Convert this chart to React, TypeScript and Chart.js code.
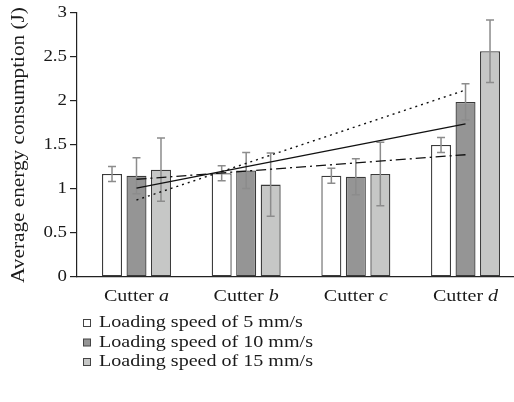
import React, { useEffect, useRef } from "react";
import { Chart, registerables } from "chart.js";

Chart.register(...registerables);

const categories = ["a", "b", "c", "d"];
const seriesNames = [
  "Loading speed of 5 mm/s",
  "Loading speed of 10 mm/s",
  "Loading speed of 15 mm/s",
];
const speed5 = [1.17, 1.18, 1.15, 1.5];
const speed10 = [1.15, 1.21, 1.14, 1.99];
const speed15 = [1.22, 1.05, 1.17, 2.565];
const err5 = [0.085, 0.085, 0.085, 0.085];
const err10 = [0.205, 0.205, 0.205, 0.205];
const err15 = [0.36, 0.36, 0.36, 0.355];
// trend line values at cutter a and cutter d
const trend5 = [1.11, 1.39];
const trend10 = [1.01, 1.74];
const trend15 = [0.875, 2.125];
const yTicks = [0, 0.5, 1, 1.5, 2, 2.5, 3];

const FONT = '"Liberation Serif", "Times New Roman", serif';
const TEXT = "#1a1a1a";
const STRETCH = 1.18;
const fills = ["#ffffff", "#959595", "#c6c7c6"];
const edge = "#3a3a3a";

type Part = { t: string; italic?: boolean };

function drawParts(
  ctx: CanvasRenderingContext2D,
  parts: Part[],
  align: "left" | "center" | "right",
  size: number
) {
  const fonts = parts.map((p) => `${p.italic ? "italic " : ""}${size}px ${FONT}`);
  const widths = parts.map((p, i) => {
    ctx.font = fonts[i];
    return ctx.measureText(p.t).width;
  });
  const total = widths.reduce((a, b) => a + b, 0);
  let x = align === "center" ? -total / 2 : align === "right" ? -total : 0;
  ctx.textAlign = "left";
  ctx.textBaseline = "middle";
  ctx.fillStyle = TEXT;
  parts.forEach((p, i) => {
    ctx.font = fonts[i];
    ctx.fillText(p.t, x, 0);
    x += widths[i];
  });
}

function textAt(
  ctx: CanvasRenderingContext2D,
  parts: Part[],
  x: number,
  y: number,
  align: "left" | "center" | "right",
  size: number,
  rotate = 0
) {
  ctx.save();
  ctx.translate(x, y);
  if (rotate) ctx.rotate(rotate);
  ctx.scale(STRETCH, 1);
  drawParts(ctx, parts, align, size);
  ctx.restore();
}

const errorBars = {
  id: "errorBars",
  afterDatasetDraw(chart: any, args: any) {
    const ds = chart.data.datasets[args.index];
    if (!ds.errors) return;
    const ctx = chart.ctx as CanvasRenderingContext2D;
    const y = chart.scales.y;
    const meta = args.meta;
    ctx.save();
    ctx.strokeStyle = "#8c8c8c";
    ctx.lineWidth = 1.5;
    meta.data.forEach((el: any, i: number) => {
      const v = ds.data[i].y;
      const e = ds.errors[i];
      const x = el.x;
      const top = y.getPixelForValue(v + e);
      const bot = y.getPixelForValue(v - e);
      ctx.beginPath();
      ctx.moveTo(x, top);
      ctx.lineTo(x, bot);
      ctx.moveTo(x - 4, top);
      ctx.lineTo(x + 4, top);
      ctx.moveTo(x - 4, bot);
      ctx.lineTo(x + 4, bot);
      ctx.stroke();
    });
    ctx.restore();
  },
};

const texts = {
  id: "texts",
  afterDraw(chart: any) {
    const ctx = chart.ctx as CanvasRenderingContext2D;
    const { x, y } = chart.scales;
    const area = chart.chartArea;
    // y tick labels
    yTicks.forEach((v) => {
      textAt(ctx, [{ t: String(v) }], area.left - 10, y.getPixelForValue(v), "right", 16);
    });
    // y title
    textAt(
      ctx,
      [{ t: "Average energy consumption (J)" }],
      19,
      (area.top + area.bottom) / 2,
      "center",
      18,
      -Math.PI / 2
    );
    // x labels
    categories.forEach((c, i) => {
      textAt(
        ctx,
        [{ t: "Cutter " }, { t: c, italic: true }],
        x.getPixelForValue(i + 1),
        area.bottom + 20,
        "center",
        17
      );
    });
    // legend
    seriesNames.forEach((name, i) => {
      const cy = area.bottom + 46 + i * 19.5;
      ctx.save();
      ctx.fillStyle = fills[i];
      ctx.strokeStyle = "#444";
      ctx.lineWidth = 1;
      ctx.fillRect(83, cy - 3.5, 7, 7);
      ctx.strokeRect(83.5, cy - 3.5, 7, 7);
      ctx.restore();
      textAt(ctx, [{ t: name }], 99, cy, "left", 17);
    });
  },
};

export default function App() {
  const ref = useRef<HTMLCanvasElement | null>(null);

  useEffect(() => {
    if (!ref.current) return;
    const series = [speed5, speed10, speed15];
    const errs = [err5, err10, err15];
    const trends = [trend5, trend10, trend15];
    const dashes = [[10, 4, 2, 4], [], [2, 4]];
    const barSets = series.map((s, k) => ({
      type: "bar" as const,
      label: seriesNames[k],
      data: categories.map((_, i) => ({ x: i + 1, y: s[i] })),
      errors: errs[k],
      backgroundColor: fills[k],
      borderColor: edge,
      borderWidth: 1.3,
      borderSkipped: false,
      categoryPercentage: 0.67,
      barPercentage: 0.816,
      order: 1,
    }));
    const lineSets = trends.map((t, k) => ({
      type: "line" as const,
      label: "trend " + k,
      data: [
        { x: 1, y: t[0] },
        { x: categories.length, y: t[1] },
      ],
      borderColor: "#111",
      borderWidth: 1.4,
      borderDash: dashes[k],
      pointRadius: 0,
      fill: false,
      order: 0,
    }));
    const chart = new Chart(ref.current, {
      type: "bar",
      data: { datasets: [...barSets, ...lineSets] as any },
      options: {
        responsive: false,
        animation: false,
        layout: { padding: { top: 13, left: 0, right: 0, bottom: 0 } },
        plugins: { legend: { display: false }, tooltip: { enabled: false } },
        scales: {
          x: {
            type: "linear",
            min: 0.4575,
            max: 4.442,
            offset: false,
            grid: { display: false, offset: false },
            border: { display: true, color: "#222", width: 1.2 },
            ticks: { display: false },
            afterBuildTicks: (s: any) => {
              s.ticks = categories.map((_, i) => ({ value: i + 1 }));
            },
            afterFit: (s: any) => {
              s.height = 125;
            },
          },
          y: {
            min: 0,
            max: 3,
            ticks: { display: false, stepSize: 0.5 },
            grid: { drawOnChartArea: false, drawTicks: true, tickLength: 7, color: "#222", lineWidth: 1.2 },
            border: { display: true, color: "#222", width: 1.2 },
            afterFit: (s: any) => {
              s.width = 77;
            },
          },
        },
      } as any,
      plugins: [errorBars, texts],
    });
    return () => chart.destroy();
  }, []);

  return (
    <div style={{ position: "absolute", left: 0, top: 0, width: 514, height: 402, overflow: "hidden", background: "#fff" }}>
      <canvas ref={ref} width={514} height={402} style={{ width: 514, height: 402, display: "block" }} />
    </div>
  );
}
